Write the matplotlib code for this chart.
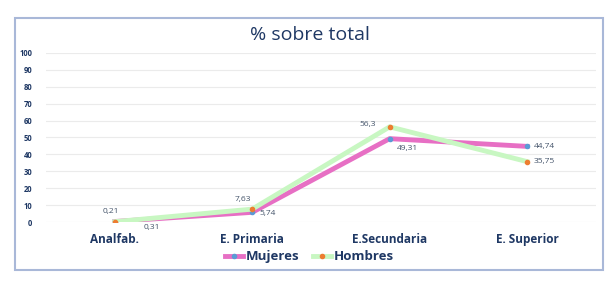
import matplotlib
matplotlib.use("Agg")
import matplotlib.pyplot as plt
from matplotlib.patches import Rectangle

categories = ["Analfab.", "E. Primaria", "E.Secundaria", "E. Superior"]
mujeres = [0.31, 5.74, 49.31, 44.74]
hombres = [0.21, 7.63, 56.3, 35.75]
mujeres_labels = ["0,31", "5,74", "49,31", "44,74"]
hombres_labels = ["0,21", "7,63", "56,3", "35,75"]
yticks = list(range(0, 101, 10))

plt.rcParams['font.family'] = ['Open Sans', 'DejaVu Sans']
navy = "#1F3864"
lblc = "#44546A"

fig = plt.figure(figsize=(6.13, 2.91), dpi=100)
fig.patches.append(Rectangle((0.0245, 0.072), 0.96, 0.866, transform=fig.transFigure,
                             fill=False, edgecolor="#A9B8D8", linewidth=1.5))
ax = fig.add_axes([0.075, 0.237, 0.897, 0.581])
x = list(range(len(categories)))

ax.plot(x, mujeres, color="#E76FC4", lw=3.5, solid_joinstyle='miter', zorder=2,
        marker='o', markersize=3, markerfacecolor="#5B9BD5", markeredgecolor="#5B9BD5", label="Mujeres")
ax.plot(x, hombres, color="#C8F7C2", lw=3.5, solid_joinstyle='miter', zorder=3,
        marker='o', markersize=3, markerfacecolor="#ED7D31", markeredgecolor="#ED7D31", label="Hombres")

ax.set_xlim(-0.5, 3.5)
ax.set_ylim(0, 100)
ax.set_yticks(yticks)
ax.set_xticks(x)
ax.set_xticklabels(categories, fontsize=8.5, fontweight='bold', color=navy)
ax.tick_params(axis='y', labelsize=5.5, colors=navy, length=0, pad=10)
ax.tick_params(axis='x', length=0, pad=8)
for lab in ax.get_yticklabels():
    lab.set_fontweight('bold')
ax.grid(axis='y', color="#EBEBEB", lw=0.8)
ax.set_axisbelow(True)
for s in ax.spines.values():
    s.set_visible(False)

m_off = [(27, -4), (11, -1), (13, -7), (5, 0)]
h_off = [(-3, 7), (-6.5, 7), (-16, 2), (5, 0)]
m_ha = ['center', 'center', 'center', 'left']
h_ha = ['center', 'center', 'center', 'left']
for i in x:
    ax.annotate(mujeres_labels[i], (i, mujeres[i]), xytext=m_off[i], textcoords='offset points',
                ha=m_ha[i], va='center', fontsize=6, color=lblc)
    ax.annotate(hombres_labels[i], (i, hombres[i]), xytext=h_off[i], textcoords='offset points',
                ha=h_ha[i], va='center', fontsize=6, color=lblc)

fig.text(0.505, 0.88, "% sobre total", ha='center', va='center', fontsize=14, color=navy)
leg = fig.legend(loc='center', bbox_to_anchor=(0.505, 0.117), ncol=2, frameon=False,
                 fontsize=9.5, handlelength=1.4, columnspacing=1.0, handletextpad=0.2)
for t in leg.get_texts():
    t.set_color(navy)
    t.set_fontweight('bold')

fig.savefig("out.png", dpi=100)
